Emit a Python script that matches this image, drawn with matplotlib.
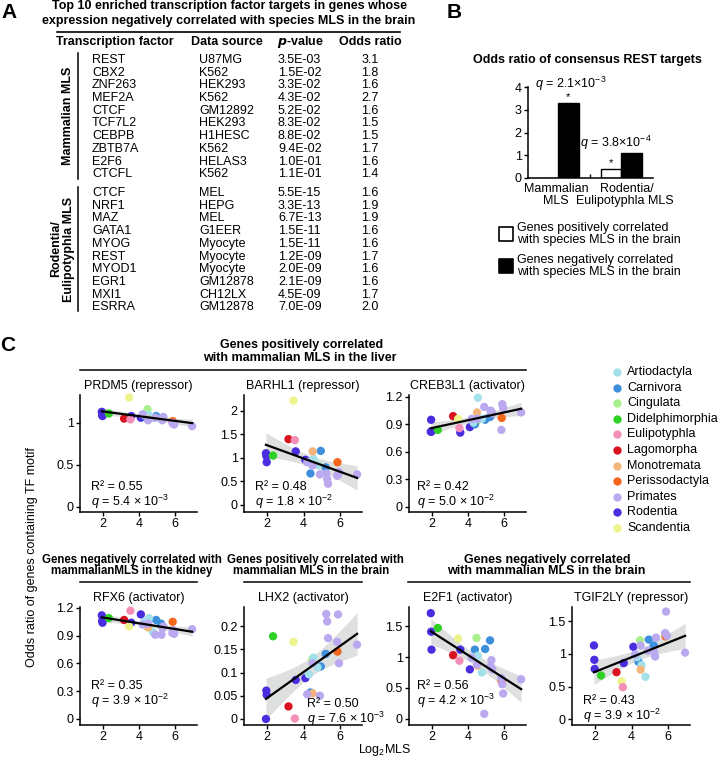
import numpy as np
import matplotlib
matplotlib.use("Agg")
import matplotlib.pyplot as plt
from matplotlib.lines import Line2D
from matplotlib.ticker import FuncFormatter

plt.rcParams['font.family'] = ['Liberation Sans', 'DejaVu Sans']
plt.rcParams['mathtext.fontset'] = 'custom'
plt.rcParams['mathtext.rm'] = 'Liberation Sans'
plt.rcParams['mathtext.it'] = 'Liberation Sans:italic'
plt.rcParams['mathtext.bf'] = 'Liberation Sans:bold'

# -------------------- data: panel A --------------------
tf_mam = ["REST", "CBX2", "ZNF263", "MEF2A", "CTCF", "TCF7L2", "CEBPB", "ZBTB7A", "E2F6", "CTCFL"]
src_mam = ["U87MG", "K562", "HEK293", "K562", "GM12892", "HEK293", "H1HESC", "K562", "HELAS3", "K562"]
p_mam = ["3.5E-03", "1.5E-02", "3.3E-02", "4.3E-02", "5.2E-02", "8.3E-02", "8.8E-02", "9.4E-02", "1.0E-01", "1.1E-01"]
or_mam = [3.1, 1.8, 1.6, 2.7, 1.6, 1.5, 1.5, 1.7, 1.6, 1.4]

tf_rod = ["CTCF", "NRF1", "MAZ", "GATA1", "MYOG", "REST", "MYOD1", "EGR1", "MXI1", "ESRRA"]
src_rod = ["MEL", "HEPG", "MEL", "G1EER", "Myocyte", "Myocyte", "Myocyte", "GM12878", "CH12LX", "GM12878"]
p_rod = ["5.5E-15", "3.3E-13", "6.7E-13", "1.5E-11", "1.5E-11", "1.2E-09", "2.0E-09", "2.1E-09", "4.5E-09", "7.0E-09"]
or_rod = [1.6, 1.9, 1.9, 1.6, 1.6, 1.7, 1.6, 1.6, 1.7, 2.0]

# -------------------- data: panel B --------------------
b_groups = ["Mammalian\nMLS", "Rodentia/\nEulipotyphla MLS"]
b_pos_corr = [0.0, 0.4]
b_neg_corr = [3.3, 1.1]

# -------------------- data: panel C --------------------
orders = ["Artiodactyla", "Carnivora", "Cingulata", "Didelphimorphia", "Eulipotyphla",
          "Lagomorpha", "Monotremata", "Perissodactyla", "Primates", "Rodentia", "Scandentia"]
order_colors = ["#a3e0ea", "#3d8fdc", "#a9ef8c", "#2fd124", "#f38fb8",
                "#d9131f", "#f3b57c", "#f4661c", "#bba9ef", "#4b2de0", "#eef48c"]

species_order = ["Rodentia"] * 5 + ["Didelphimorphia", "Lagomorpha", "Scandentia", "Eulipotyphla",
                 "Cingulata", "Carnivora", "Carnivora", "Carnivora",
                 "Artiodactyla", "Artiodactyla", "Artiodactyla", "Monotremata", "Perissodactyla"] + ["Primates"] * 10
log2_mls = [1.93, 1.95, 1.97, 3.57, 4.10, 2.32, 3.17, 3.45, 3.52, 4.47, 4.38, 4.95, 5.22,
            4.30, 4.55, 4.77, 4.50, 5.87, 4.20, 4.50, 4.90, 5.25, 5.30, 5.35, 5.85, 5.90, 5.95, 6.95]

y_prdm5 = [1.13, 1.09, 1.08, 1.08, 1.06, 1.11, 1.05, 1.30, 1.04, 1.16, 1.07, 1.08, 1.05,
           1.10, 1.09, 1.06, 1.04, 1.02, 1.10, 1.03, 1.06, 1.05, 1.03, 1.07, 1.00, 0.99, 0.98, 0.96]
y_barhl1 = [1.10, 1.04, 0.91, 1.14, 0.96, 1.05, 1.40, 2.22, 1.38, 0.85, 0.67, 1.15, 0.80,
            0.90, 0.98, 0.85, 1.14, 0.91, 0.91, 0.84, 0.65, 0.67, 0.55, 0.45, 0.62, 0.64, 0.70, 0.65]
y_creb3l1 = [0.82, 0.95, 0.82, 0.81, 0.87, 0.84, 0.99, 0.96, 0.86, 0.93, 0.90, 0.95, 0.98,
             0.92, 1.19, 0.96, 1.03, 0.97, 0.96, 0.96, 1.09, 1.05, 1.04, 1.02, 0.84, 1.12, 1.08, 1.03]
y_rfx6 = [1.12, 1.06, 1.04, 1.04, 1.13, 1.09, 1.07, 1.00, 1.17, 1.02, 1.02, 1.07, 1.03,
          1.05, 1.09, 0.94, 0.99, 1.05, 1.02, 1.03, 0.91, 0.91, 0.98, 1.00, 0.93, 0.96, 0.92, 0.97]
y_lhx2 = [0.000, 0.061, 0.052, 0.084, 0.088, 0.178, 0.027, 0.166, 0.001, 0.128, 0.057, 0.113, 0.140,
          0.096, 0.132, 0.111, 0.055, 0.145, 0.053, 0.120, 0.050, 0.226, 0.210, 0.174, 0.166, 0.225, 0.120, 0.160]
y_e2f1 = [1.71, 1.41, 1.12, 1.12, 0.80, 1.47, 1.03, 1.30, 0.94, 1.31, 1.12, 1.13, 1.27,
          1.00, 1.02, 0.75, 0.86, 0.61, 0.99, 0.88, 0.08, 0.85, 0.95, 0.80, 0.66, 0.56, 0.41, 0.64]
y_tgif2ly = [1.13, 0.91, 0.77, 0.86, 1.11, 0.67, 0.72, 0.58, 0.49, 1.21, 0.88, 1.22, 1.13,
             0.95, 0.83, 0.65, 0.76, 1.27, 0.99, 1.13, 1.05, 1.03, 0.96, 1.25, 1.32, 1.65, 1.28, 1.02]

# -------------------- layout helpers --------------------
W, H = 718, 759
FS = 9
fig = plt.figure(figsize=(W / 100, H / 100), dpi=100)


def fx(px):
    return px / W


def fy(py):
    return 1 - py / H


def ftext(px, py, s, **kw):
    kw.setdefault("va", "center")
    kw.setdefault("fontsize", FS)
    return fig.text(fx(px), fy(py), s, **kw)


def fline(x0, x1, y0, y1, lw=1.1):
    fig.add_artist(Line2D([fx(x0), fx(x1)], [fy(y0), fy(y1)], color="black", lw=lw,
                          transform=fig.transFigure))


def pax(x0, y0, x1, y1):
    return fig.add_axes([fx(x0), fy(y1), (x1 - x0) / W, (y1 - y0) / H])


# -------------------- panel A --------------------
ftext(9, 13, "A", fontsize=15, fontweight="bold", ha="center")
ftext(229, 6, "Top 10 enriched transcription factor targets in genes whose", fontweight="bold", ha="center")
ftext(229, 21, "expression negatively correlated with species MLS in the brain", fontweight="bold", ha="center")
fline(57, 400, 32, 32, lw=1.2)
ftext(115, 42, "Transcription factor", fontweight="bold", ha="center")
ftext(227, 42, "Data source", fontweight="bold", ha="center")
ftext(300, 42, r"$\mathbfit{p}$-value", fontweight="bold", ha="center")
ftext(370, 42, "Odds ratio", fontweight="bold", ha="center")

step = 12.7
for y0, tfs, srcs, ps, ors in [(60, tf_mam, src_mam, p_mam, or_mam), (193, tf_rod, src_rod, p_rod, or_rod)]:
    for i in range(len(tfs)):
        yy = y0 + i * step
        ftext(92, yy, tfs[i], ha="left")
        ftext(199, yy, srcs[i], ha="left")
        ftext(278, yy, ps[i], ha="left")
        ftext(370, yy, f"{ors[i]:.1f}", ha="center")
fline(78, 78, 53, 179)
fline(78, 78, 187, 311)
ftext(68, 116, "Mammalian MLS", fontweight="bold", rotation=90, ha="center")
ftext(56, 249, "Rodentia/", fontweight="bold", rotation=90, ha="center")
ftext(69, 249, "Eulipotyphla MLS", fontweight="bold", rotation=90, ha="center")

# -------------------- panel B --------------------
ftext(454, 13, "B", fontsize=15, fontweight="bold", ha="center")
ftext(587, 60, "Odds ratio of consensus REST targets", fontweight="bold", ha="center")
axb = pax(528, 87, 653, 178)
bw = 0.32
xg = np.arange(len(b_groups))
axb.bar(xg - bw / 2, b_pos_corr, bw, color="white", edgecolor="black", lw=1.0)
axb.bar(xg + bw / 2, b_neg_corr, bw, color="black", edgecolor="black", lw=1.0)
axb.set_xlim(-0.48, 1.5)
axb.set_ylim(0, 4)
axb.set_yticks([0, 1, 2, 3, 4])
axb.set_xticks([0.5])
axb.set_xticklabels([])
axb.tick_params(axis="x", direction="in", length=3, width=1)
axb.tick_params(axis="y", direction="out", length=3, width=1, labelsize=FS, pad=1.5)
for s in ["top", "right"]:
    axb.spines[s].set_visible(False)
for s in ["left", "bottom"]:
    axb.spines[s].set_linewidth(1.1)
axb.text(xg[0] + bw / 2, b_neg_corr[0] + 0.02, "*", ha="center", va="bottom", fontsize=8)
axb.text(xg[1] - bw / 2, b_pos_corr[1] + 0.02, "*", ha="center", va="bottom", fontsize=8)
axb.text(-0.37, 4.15, r"$q$ = 2.1×10$^{-3}$", ha="left", va="center", fontsize=FS, clip_on=False)
axb.text(0.35, 1.55, r"$q$ = 3.8×10$^{-4}$", ha="left", va="center", fontsize=FS, clip_on=False)
ftext(556, 189, "Mammalian", ha="center")
ftext(556, 201, "MLS", ha="center")
ftext(627, 189, "Rodentia/", ha="center")
ftext(625, 201, "Eulipotyphla MLS", ha="center")

axl = fig.add_axes([0, 0, 1, 1], facecolor="none")
axl.set_xlim(0, W)
axl.set_ylim(H, 0)
axl.axis("off")
axl.scatter([505.5], [233.5], marker="s", s=95, facecolor="white", edgecolor="black", lw=1.2)
axl.scatter([505.5], [266], marker="s", s=95, facecolor="black", edgecolor="black", lw=1.2)
ftext(517, 228, "Genes positively correlated", ha="left")
ftext(517, 240, "with species MLS in the brain", ha="left")
ftext(517, 260, "Genes negatively correlated", ha="left")
ftext(517, 272, "with species MLS in the brain", ha="left")

# -------------------- panel C --------------------
ftext(8, 345, "C", fontsize=15, fontweight="bold", ha="center")

# group headers
HS = 8.3
ftext(302, 345, "Genes positively correlated", fontweight="bold", ha="center")
ftext(300, 358, "with mammalian MLS in the liver", fontweight="bold", ha="center")
fline(80, 526, 370, 370)
ftext(132, 560, "Genes negatively correlated with", fontsize=HS, fontweight="bold", ha="center")
ftext(132, 571, "mammalianMLS in the kidney", fontsize=HS, fontweight="bold", ha="center")
fline(80, 197, 582, 582)
ftext(315, 560, "Genes positively correlated with", fontsize=HS, fontweight="bold", ha="center")
ftext(311, 571, "mammalian MLS in the brain", fontsize=HS, fontweight="bold", ha="center")
fline(244, 362, 582, 582)
ftext(547, 560, "Genes negatively correlated", fontweight="bold", ha="center")
ftext(546, 571, "with mammalian MLS in the brain", fontweight="bold", ha="center")
fline(408, 690, 582, 582)

col_of = dict(zip(orders, order_colors))
pt_colors = [col_of[o] for o in species_order]
xv = np.array(log2_mls)

panels = [
    ("PRDM5 (repressor)", y_prdm5, (80, 395, 197, 512), (-0.06, 1.33), [0, 0.5, 1], "0.55", "5.4 × 10$^{-3}$", (0.09, 0.215, 0.085)),
    ("BARHL1 (repressor)", y_barhl1, (244, 395, 362, 512), (-0.15, 2.34), [0, 0.5, 1, 1.5, 2], "0.48", "1.8 × 10$^{-2}$", (0.09, 0.215, 0.085)),
    ("CREB3L1 (activator)", y_creb3l1, (409, 395, 526, 512), (-0.055, 1.22), [0, 0.3, 0.6, 0.9, 1.2], "0.42", "5.0 × 10$^{-2}$", (0.07, 0.215, 0.085)),
    ("RFX6 (activator)", y_rfx6, (80, 607, 197, 725), (-0.065, 1.21), [0, 0.3, 0.6, 0.9, 1.2], "0.35", "3.9 × 10$^{-2}$", (0.09, 0.33, 0.2)),
    ("LHX2 (activator)", y_lhx2, (244, 607, 362, 725), (-0.013, 0.241), [0, 0.05, 0.1, 0.15, 0.2], "0.50", "7.6 × 10$^{-3}$", (0.53, 0.18, 0.055)),
    ("E2F1 (activator)", y_e2f1, (409, 607, 526, 725), (-0.1, 1.81), [0, 0.5, 1, 1.5], "0.56", "4.2 × 10$^{-3}$", (0.07, 0.33, 0.2)),
    ("TGIF2LY (repressor)", y_tgif2ly, (572, 607, 690, 725), (-0.09, 1.72), [0, 0.5, 1, 1.5], "0.43", "3.9 × 10$^{-2}$", (0.09, 0.205, 0.075)),
]

for title, yv, rect, ylim, yticks, r2, qtxt, tpos in panels:
    ax = pax(*rect)
    yv = np.array(yv)
    # linear fit with 95% band
    n = len(xv)
    b1, b0 = np.polyfit(xv, yv, 1)
    xs = np.linspace(xv.min(), xv.max(), 100)
    yhat = b0 + b1 * xs
    resid = yv - (b0 + b1 * xv)
    s = np.sqrt(np.sum(resid ** 2) / (n - 2))
    sxx = np.sum((xv - xv.mean()) ** 2)
    se = s * np.sqrt(1 / n + (xs - xv.mean()) ** 2 / sxx)
    ax.fill_between(xs, yhat - 2.056 * se, yhat + 2.056 * se, color="#c8cccc", alpha=0.6, lw=0, zorder=1)
    ax.scatter(xv, yv, c=pt_colors, s=36, lw=0, zorder=2, clip_on=False)
    ax.plot(xs, yhat, color="black", lw=1.6, zorder=3)
    ax.set_xlim(0.72, 7.22)
    ax.set_ylim(*ylim)
    ax.set_xticks([2, 4, 6])
    ax.set_yticks(yticks)
    ax.yaxis.set_major_formatter(FuncFormatter(lambda v, p: f"{v:g}"))
    ax.tick_params(direction="out", length=3, width=1, labelsize=FS, pad=1.5)
    for sp in ["top", "right"]:
        ax.spines[sp].set_visible(False)
    for sp in ["left", "bottom"]:
        ax.spines[sp].set_linewidth(1.1)
    ax.set_title(title, fontsize=FS, pad=4)
    ax.text(tpos[0], tpos[1], "R² = " + r2, transform=ax.transAxes, fontsize=FS, ha="left", va="center")
    ax.text(tpos[0], tpos[2], r"$q$ = " + qtxt, transform=ax.transAxes, fontsize=FS, ha="left", va="center")

ftext(32, 557, "Odds ratio of genes containing TF motif", rotation=90, ha="center")
ftext(385, 750, "Log$_2$MLS", ha="center")

# legend for orders
for i, (o, c) in enumerate(zip(orders, order_colors)):
    yy = 372 + i * 15.6
    axl.scatter([617], [yy], s=36, color=c, lw=0)
    ftext(627, yy, o, ha="left")

fig.savefig("out.png", dpi=100)
